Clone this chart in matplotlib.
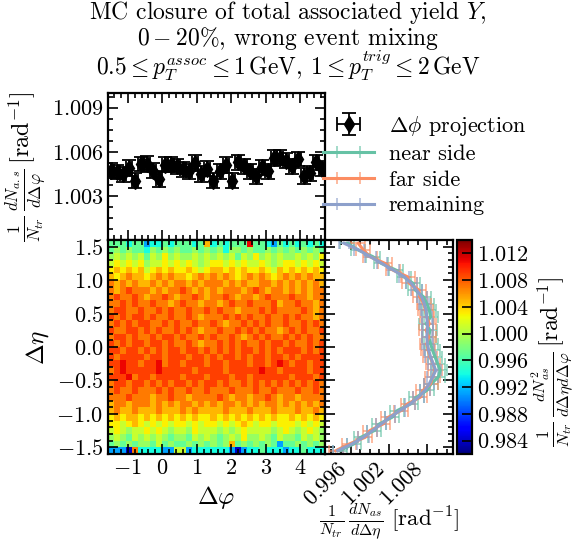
import numpy as np
import matplotlib
matplotlib.use('Agg')
import matplotlib.pyplot as plt
from matplotlib.colors import to_rgba
from matplotlib.ticker import AutoMinorLocator, MultipleLocator, FixedLocator

plt.rcParams['font.family'] = 'serif'
plt.rcParams['font.serif'] = ['cmr10']
plt.rcParams['mathtext.fontset'] = 'cm'
plt.rcParams['axes.formatter.use_mathtext'] = True
plt.rcParams['axes.unicode_minus'] = True
plt.rcParams['font.size'] = 16
plt.rcParams['axes.linewidth'] = 1.6

# delta phi projection (36 bins from -pi/2 to 3pi/2)
phi_vals = [1.00471, 1.00462, 1.00448, 1.00489, 1.00404, 1.00517, 1.00517, 1.00471, 1.00415,
            1.00512, 1.00512, 1.00501, 1.00482, 1.00466, 1.00524, 1.00448, 1.00485, 1.00404,
            1.00466, 1.00512, 1.00404, 1.00528, 1.00501, 1.00466, 1.00432, 1.00494, 1.00466,
            1.00558, 1.00558, 1.00540, 1.00501, 1.00552, 1.00436, 1.00455, 1.00528, 1.00485]
phi_errs = [0.00052, 0.00050, 0.00051, 0.00053, 0.00052, 0.00050, 0.00052, 0.00051, 0.00053,
            0.00052, 0.00051, 0.00050, 0.00052, 0.00051, 0.00053, 0.00052, 0.00050, 0.00052,
            0.00051, 0.00053, 0.00052, 0.00050, 0.00052, 0.00051, 0.00053, 0.00052, 0.00050,
            0.00052, 0.00051, 0.00053, 0.00052, 0.00050, 0.00052, 0.00051, 0.00053, 0.00052]

# delta eta projections (32 bins from 1.6 down to -1.6)
near_vals = [0.9955, 0.9972, 0.9995, 1.0008, 1.0031, 1.0043, 1.0058, 1.0061, 1.0074, 1.0079, 1.0083,
             1.0085, 1.0078, 1.0084, 1.0082, 1.0085, 1.0088, 1.0092, 1.0096, 1.0100, 1.0097, 1.0086,
             1.0079, 1.0063, 1.0054, 1.0033, 1.0025, 1.0005, 0.9997, 0.9976, 0.9965, 0.9943]
far_vals = [0.9972, 0.9980, 0.9990, 1.0014, 1.0026, 1.0049, 1.0052, 1.0067, 1.0068, 1.0074, 1.0077,
            1.0079, 1.0083, 1.0078, 1.0082, 1.0079, 1.0081, 1.0084, 1.0089, 1.0092, 1.0088, 1.0085,
            1.0073, 1.0069, 1.0049, 1.0039, 1.0019, 1.0011, 0.9990, 0.9983, 0.9958, 0.9937]
remain_vals = [0.9950, 0.9973, 0.9991, 1.0009, 1.0027, 1.0044, 1.0055, 1.0063, 1.0071, 1.0075, 1.0078,
               1.0079, 1.0080, 1.0080, 1.0079, 1.0080, 1.0082, 1.0085, 1.0089, 1.0093, 1.0088, 1.0083,
               1.0076, 1.0066, 1.0053, 1.0037, 1.0022, 1.0008, 0.9994, 0.9980, 0.9962, 0.9940]
near_err = 0.0011
far_err = 0.0011
remain_err = 0.0008

# 2D map, rows from top (deta = 1.55) to bottom (deta = -1.55), one code per dphi bin
code_vals = {'0': 0.984, '1': 0.988, '2': 0.991, '3': 0.994, '4': 0.997, '5': 0.999, '6': 1.001,
             '7': 1.003, '8': 1.005, '9': 1.007, 'A': 1.009, 'B': 1.011, 'C': 1.013}
map_rows = [
    "444344 233434 443483 43444B 443243 434343",
    "454544 354545 445454 535545 445454 545454",
    "565656 465756 556565 656465 756565 565657",
    "676767 566767 676567 767676 676567 767676",
    "787878 678787 787678 878787 787687 878787",
    "878988 789898 878989 898789 898789 898988",
    "989898 898989 989899 989898 899898 989898",
    "989A99 989899 A98989 899989 A98998 989899",
    "9A99A9 899A98 99A989 9A9899 89A999 A99899",
    "99A9A9 9A9989 A99899 89A99A 999A89 9A9989",
    "9AA99A 99A9A9 9A99A9 A99899 9A9A99 99A989",
    "A9A9AA 9A99A9 9A9899 9A9A9A 99A99A 9A9989",
    "9A9A9A A99A9A 99A99A 9899A9 A9A99A 99A9A9",
    "A99AA9 A9A99A 9A9899 A99A9A 9A9989 A9A99A",
    "9AA9A9 9A9AA9 A99A9A 99A989 A9A99A 9A9A99",
    "A9A9AA 9AA9A9 9A9899 A9A9A9 9A9AA9 A99A9A",
    "AA9AA9 A9A9AA 9AA9A9 A9A9AA 9A9A9A AA9A9A",
    "A9AAAA 9AA9AA A9AA9A 9AA9A9 AA9AA9 A9AAAA",
    "AABAA9 AAB9AA 9AAA9A A9AAA9 AA9ABA 9AA9AA",
    "9ABAAA AABAAA AA9AAA A9AAAA ABAA9A AAA9AA",
    "AAAB9A A9AAAA 9AAA9A AA9AA9 AAAAAA 9AAA9A",
    "9AA9AA 9A9A9A A9A9AA 9A99A9 A9A9A9 A9A9A9",
    "9A99A9 99A9A9 9A99A9 99A999 A99A99 9A99A9",
    "999A99 9899A9 989999 A98998 99A989 989999",
    "899899 989898 998989 899898 989989 898989",
    "898898 889888 989888 898889 888988 898898",
    "787887 878787 878778 787878 787877 878787",
    "776787 676767 767677 676787 677677 767676",
    "676566 767656 657666 565676 666567 656765",
    "565465 656545 546565 456575 565465 546565",
    "454545 546454 454545 458454 545424 454545",
    "222093 333226 623333 332023 343332 334333",
]

phi_edges = np.linspace(-np.pi / 2, 3 * np.pi / 2, len(phi_vals) + 1)
phi_centers = 0.5 * (phi_edges[1:] + phi_edges[:-1])
eta_edges = np.linspace(1.6, -1.6, len(map_rows) + 1)
eta_centers = 0.5 * (eta_edges[1:] + eta_edges[:-1])
grid = np.array([[code_vals[c] for c in r.replace(' ', '')] for r in map_rows])

W, H = 576, 543
fig = plt.figure(figsize=(W / 100, H / 100), dpi=100)

def box(x0, y0, x1, y1):
    return [x0 / W, 1 - y1 / H, (x1 - x0) / W, (y1 - y0) / H]

ax_top = fig.add_axes(box(108, 93, 325, 240))
ax_map = fig.add_axes(box(108, 240, 325, 454))
ax_eta = fig.add_axes(box(325, 240, 453, 454))
ax_cb = fig.add_axes(box(457, 240, 472, 454))

for a in (ax_top, ax_map, ax_eta):
    a.tick_params(which='both', direction='in', top=True, right=True, width=1.2)
    a.tick_params(which='major', length=7)
    a.tick_params(which='minor', length=3.5)

# top panel
top_err = ax_top.errorbar(phi_centers, phi_vals, xerr=np.diff(phi_edges) / 2, yerr=phi_errs,
                          fmt='d', color='black', markersize=8.5, capsize=5, elinewidth=1.3,
                          capthick=1.3)
ax_top.set_xlim(-np.pi / 2, 3 * np.pi / 2)
ax_top.set_ylim(1.000, 1.010)
ax_top.yaxis.set_major_locator(FixedLocator([1.003, 1.006, 1.009]))
ax_top.yaxis.set_minor_locator(AutoMinorLocator(4))
ax_top.xaxis.set_major_locator(MultipleLocator(1))
ax_top.xaxis.set_minor_locator(AutoMinorLocator(5))
ax_top.set_xticklabels([])
ax_top.set_ylabel(r'$\frac{1}{N_{tr}}\,\frac{dN_{a.s}}{d\Delta\varphi}\,[\mathrm{rad}^{-1}]$',
                  fontsize=17.5, labelpad=2)

# 2D map
mesh = ax_map.pcolormesh(phi_edges, eta_edges, grid, cmap='jet', vmin=0.982, vmax=1.014)
ax_map.set_xlim(-np.pi / 2, 3 * np.pi / 2)
ax_map.set_ylim(-1.6, 1.6)
ax_map.xaxis.set_major_locator(MultipleLocator(1))
ax_map.xaxis.set_minor_locator(AutoMinorLocator(5))
ax_map.yaxis.set_major_locator(MultipleLocator(0.5))
ax_map.yaxis.set_minor_locator(AutoMinorLocator(5))
ax_map.set_xlabel(r'$\Delta\varphi$', fontsize=18)
ax_map.set_ylabel(r'$\Delta\eta$', fontsize=18)

# eta projections
series = [(near_vals, near_err, '#66c2a5', 'near side'),
          (far_vals, far_err, '#fc8d62', 'far side'),
          (remain_vals, remain_err, '#8da0cb', 'remaining')]
eta_handles = []
for vals, err, col, lab in series:
    h = ax_eta.errorbar(vals, eta_centers, xerr=err, color=col, lw=2.2, capsize=4,
                        elinewidth=1.2, capthick=1.2, ecolor=to_rgba(col, 0.7), label=lab)
    eta_handles.append(h)
ax_eta.set_ylim(-1.6, 1.6)
ax_eta.set_xlim(0.992, 1.012)
ax_eta.xaxis.set_major_locator(FixedLocator([0.996, 1.002, 1.008]))
ax_eta.xaxis.set_minor_locator(AutoMinorLocator(4))
ax_eta.yaxis.set_major_locator(MultipleLocator(0.5))
ax_eta.yaxis.set_minor_locator(AutoMinorLocator(5))
ax_eta.set_yticklabels([])
for lbl in ax_eta.get_xticklabels():
    lbl.set_rotation(45)
    lbl.set_ha('right')
ax_eta.set_xlabel(r'$\frac{1}{N_{tr}}\,\frac{dN_{as}}{d\Delta\eta}\ [\mathrm{rad}^{-1}]$',
                  fontsize=16.5)
ax_eta.xaxis.set_label_coords(0.5, -0.222)

# colorbar
cb = fig.colorbar(mesh, cax=ax_cb, ticks=[0.984, 0.988, 0.992, 0.996, 1.000, 1.004, 1.008, 1.012])
cb.ax.tick_params(direction='in', length=7, width=1.2)
cb.outline.set_linewidth(1.6)
cb.set_label(r'$\frac{1}{N_{tr}}\,\frac{dN^2_{as}}{d\Delta\eta d\Delta\varphi}\,[\mathrm{rad}^{-1}]$',
             fontsize=17)
cb.ax.yaxis.set_label_coords(4.85, 0.43)

fig.legend([top_err] + eta_handles, [r'$\Delta\phi$ projection', 'near side', 'far side', 'remaining'],
           loc='upper left', bbox_to_anchor=(323 / W, 1 - 114 / H), frameon=False,
           borderpad=0, borderaxespad=0, handlelength=2.3, handletextpad=0.65, labelspacing=0.28,
           numpoints=1, fontsize=16)

title_lines = ['MC closure of total associated yield $Y$,',
               '$0-20\\%$, wrong event mixing',
               '$0.5\\leq p_T^{assoc}\\leq 1\\,\\mathrm{GeV}$, $1\\leq p_T^{trig}\\leq 2\\,\\mathrm{GeV}$']
title_base = [19, 45, 75]
for line, yb in zip(title_lines, title_base):
    fig.text(0.5, 1 - yb / H, line, ha='center', va='baseline', fontsize=17)

fig.savefig('out.png', dpi=100)
